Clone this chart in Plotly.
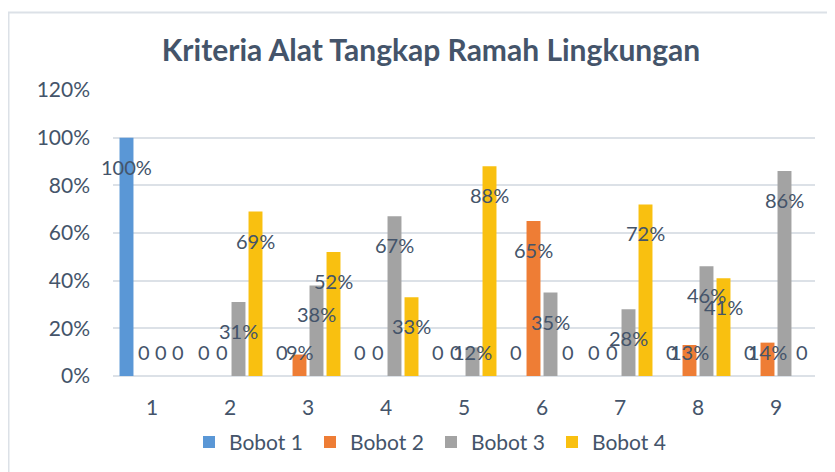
import plotly.graph_objects as go

categories = [1, 2, 3, 4, 5, 6, 7, 8, 9]
series_names = ["Bobot 1", "Bobot 2", "Bobot 3", "Bobot 4"]
bobot1 = [1.00, 0, 0, 0, 0, 0, 0, 0, 0]
bobot2 = [0, 0, 0.09, 0, 0, 0.65, 0, 0.13, 0.14]
bobot3 = [0, 0.31, 0.38, 0.67, 0.12, 0.35, 0.28, 0.46, 0.86]
bobot4 = [0, 0.69, 0.52, 0.33, 0.88, 0, 0.72, 0.41, 0]
series_values = [bobot1, bobot2, bobot3, bobot4]
colors = ["#5A97D6", "#EE7D35", "#A3A3A3", "#F9C010"]
ytick_vals = [0, 0.2, 0.4, 0.6, 0.8, 1.0, 1.2]
ytick_text = ["0%", "20%", "40%", "60%", "80%", "100%", "120%"]

FONT = "Lato, Open Sans, sans-serif"
TXT = "#44546A"
GRID = "#DCE1E7"

# page has an 8px body margin; figure is sized to fit the window
OFF = 8
W, H = 835 - OFF, 472 - OFF
ML = 113 - OFF
MT = 90 - OFF
MR = W - (815 - OFF)
MB = H - (376 - OFF)
BARGAP = 0.128
GROUPGAP = 0.18
plot_w = W - ML - MR
plot_h = H - MT - MB

fig = go.Figure()
for name, vals, col in zip(series_names, series_values, colors):
    fig.add_trace(go.Bar(x=categories, y=vals, name=name, marker=dict(color=col, line=dict(width=0))))

# data labels (Excel "inside end" style, kept above baseline)
px_per_unit = plot_h / 1.2
slot = (1 - BARGAP) / len(series_values)
annotations = []
for s, vals in enumerate(series_values):
    off = (s - (len(series_values) - 1) / 2) * slot
    for c, v in zip(categories, vals):
        txt = "0" if v == 0 else f"{round(v * 100)}%"
        top_px = v * px_per_unit
        if top_px - 29 >= 24:
            y, ys = v, -29
        else:
            y, ys = 0, 24
        annotations.append(dict(x=c + off, y=y, xref="x", yref="y", text=txt, showarrow=False,
                                yshift=ys, xanchor="center", yanchor="middle",
                                font=dict(family=FONT, size=20, color=TXT)))

fig.update_layout(
    template="none",
    width=W, height=H,
    margin=dict(l=ML, r=MR, t=MT, b=MB, autoexpand=False),
    paper_bgcolor="white", plot_bgcolor="white",
    barmode="group", bargap=BARGAP, bargroupgap=GROUPGAP,
    title=dict(text="<b>Kriteria Alat Tangkap Ramah Lingkungan</b>", x=(431 - OFF) / W, xanchor="center",
               y=1 - (50 - OFF) / H, yanchor="middle", font=dict(family=FONT, size=30, color=TXT)),
    font=dict(family=FONT, size=20, color=TXT),
    showlegend=True,
    legend=dict(orientation="h", x=(189 - OFF - ML) / plot_w, xanchor="left", y=-0.232, yanchor="middle",
                font=dict(family=FONT, size=21, color=TXT), itemsizing="constant",
                entrywidth=76, entrywidthmode="pixels", itemwidth=30, traceorder="normal",
                bgcolor="rgba(0,0,0,0)"),
    annotations=annotations,
    xaxis=dict(tickmode="array", tickvals=categories, ticktext=[str(c) for c in categories],
               range=[0.5, 9.5], showgrid=False, zeroline=False, showline=False, automargin=False,
               ticks="", ticklabelstandoff=17, tickfont=dict(family=FONT, size=21, color=TXT)),
    yaxis=dict(range=[0, 1.2], tickmode="array", tickvals=ytick_vals, ticktext=ytick_text,
               showgrid=True, gridcolor=GRID, gridwidth=2, zeroline=True, zerolinecolor=GRID,
               zerolinewidth=2, showline=False, ticks="", ticklabelstandoff=22, automargin=False,
               tickfont=dict(family=FONT, size=21, color=TXT)),
    shapes=[dict(type="rect", xref="paper", yref="paper",
                 x0=(0.5 - ML) / plot_w, x1=(W + 20 - ML) / plot_w,
                 y0=(H - MB - (H + 20)) / plot_h, y1=(H - MB - 4.5) / plot_h,
                 line=dict(color=GRID, width=2), fillcolor="rgba(0,0,0,0)", layer="below")],
)

fig.write_html("out.html")
